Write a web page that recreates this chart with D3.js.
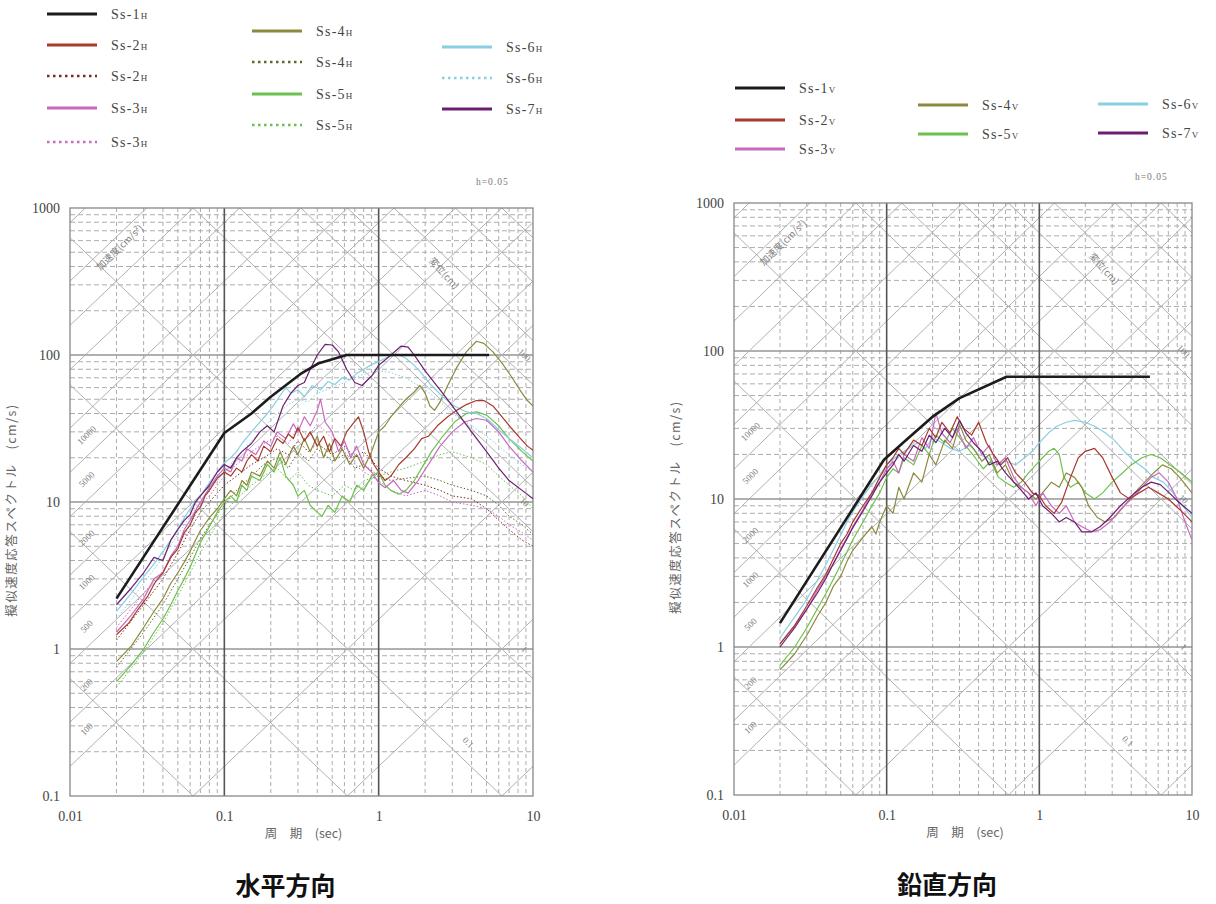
<!DOCTYPE html>
<html>
<head>
<meta charset="utf-8">
<script src="https://cdn.jsdelivr.net/npm/d3@7"></script>
<style>
  body { margin: 0; background: #fff; }
  svg { display: block; }
</style>
</head>
<body>
<svg id="chart" width="1216" height="904"></svg>
<script>
// ---- axis values ----
const periodTicks = [0.01, 0.1, 1, 10];
const periodTickLabels = ['0.01', '0.1', '1', '10'];
const svTicks = [0.1, 1, 10, 100, 1000];
const svTickLabels = ['0.1', '1', '10', '100', '1000'];

// tripartite guide lines (acceleration cm/s2, displacement cm)
const accelLines = [0.1, 1, 10, 100, 200, 500, 1000, 2000, 5000, 10000, 20000, 50000, 100000, 200000, 500000];
const accelLabels = [100, 200, 500, 1000, 2000, 5000, 10000];
const dispLines = [0.001, 0.01, 0.1, 1, 10, 20, 50, 100, 200, 500, 1000];
const dispLabels = [0.1, 1, 10, 100];

// ---- horizontal spectra [period sec, pseudo velocity cm/s] ----
const ss1H = [[0.02,2.2],[0.1,29.5],[0.15,40],[0.2,52],[0.31,74],[0.41,88],[0.62,100],[5.2,100]];
const ss2H = [[0.02,1.25],[0.024,1.5],[0.028,1.9],[0.032,2.3],[0.036,2.9],[0.04,3.3],[0.045,4.2],[0.05,4.8],[0.055,6.2],[0.06,7],[0.065,8.5],[0.07,9.2],[0.075,11],[0.08,12],[0.09,14.5],[0.1,16],[0.11,15],[0.12,17],[0.13,16],[0.14,19],[0.15,21],[0.165,19],[0.18,24],[0.2,22],[0.22,27],[0.24,25],[0.26,29],[0.28,27],[0.3,32],[0.33,26],[0.36,30],[0.4,24],[0.44,28],[0.48,22],[0.52,27],[0.57,24],[0.62,30],[0.68,34],[0.74,38],[0.8,30],[0.86,22],[0.93,18],[1.0,16],[1.1,14],[1.2,15],[1.35,18],[1.5,20],[1.7,23],[1.9,27],[2.1,28],[2.4,33],[2.8,38],[3.2,42],[3.7,46],[4.3,49],[4.8,49],[5.5,45],[6.3,38],[7.2,32],[8.3,27],[9.2,24],[10,22.5]];
const ss2Hd = [[0.02,1.15],[0.03,2.0],[0.04,3.0],[0.05,4.5],[0.06,6.5],[0.07,8.5],[0.08,10],[0.1,13],[0.12,15],[0.15,18],[0.18,20],[0.22,23],[0.26,21],[0.3,26],[0.35,22],[0.4,25],[0.5,21],[0.6,24],[0.7,20],[0.8,22],[1.0,17],[1.2,15],[1.5,14],[2,13],[2.5,12],[3,11],[4,10.5],[5,9],[6,7.5],[7,6.5],[8.5,5.5],[10,5]];
const ss3H = [[0.02,1.3],[0.025,1.7],[0.03,2.2],[0.035,3],[0.04,3.3],[0.045,4.3],[0.05,5],[0.055,6.5],[0.06,7.5],[0.07,10],[0.08,12.5],[0.09,15],[0.1,17],[0.11,16],[0.12,20],[0.13,19],[0.14,23],[0.16,21],[0.18,26],[0.2,24],[0.22,30],[0.25,27],[0.28,34],[0.3,30],[0.33,38],[0.36,33],[0.4,42],[0.42,50],[0.45,35],[0.5,30],[0.55,22],[0.6,26],[0.66,20],[0.72,24],[0.8,18],[0.9,16],[1.0,13.5],[1.1,12.5],[1.25,14],[1.4,12],[1.55,11.5],[1.8,14],[2.1,18],[2.5,24],[3,30],[3.6,35],[4.3,37],[5,36],[6,30],[7,24],[8.5,19],[10,16]];
const ss3Hd = [[0.02,1.4],[0.03,2.4],[0.04,3.4],[0.05,5],[0.06,7],[0.07,9.5],[0.08,11],[0.1,15],[0.12,18],[0.15,22],[0.18,25],[0.22,28],[0.26,25],[0.3,32],[0.35,28],[0.4,34],[0.5,27],[0.6,22],[0.7,18],[0.8,16],[1.0,14],[1.2,12],[1.5,11],[2,12],[2.5,11],[3,10],[4,9.5],[5,9],[6,8],[7,7],[8.5,6.2],[10,5.5]];
const ss4H = [[0.02,0.82],[0.025,1.05],[0.03,1.4],[0.035,1.8],[0.04,2.2],[0.045,2.8],[0.05,3.3],[0.055,3.9],[0.06,4.6],[0.065,5.5],[0.07,6.4],[0.08,7.8],[0.09,9],[0.1,10.5],[0.11,12],[0.12,11],[0.13,14],[0.14,13],[0.15,16],[0.17,15],[0.19,19],[0.21,17],[0.23,22],[0.25,18],[0.28,24],[0.3,21],[0.33,27],[0.36,22],[0.4,28],[0.44,20],[0.48,25],[0.52,19],[0.58,23],[0.65,18],[0.72,21],[0.8,17],[0.9,22],[1.0,30],[1.1,33],[1.2,38],[1.35,44],[1.5,50],[1.7,56],[1.85,62],[2.0,55],[2.15,45],[2.3,42],[2.5,48],[2.8,62],[3.2,82],[3.7,105],[4.3,124],[4.8,120],[5.5,105],[6.3,88],[7.2,72],[8.3,57],[9.2,49],[10,45]];
const ss4Hd = [[0.02,0.75],[0.03,1.3],[0.04,2],[0.05,3],[0.06,4.2],[0.07,5.6],[0.08,7],[0.1,9.5],[0.12,12],[0.15,15],[0.18,18],[0.22,20],[0.26,17],[0.3,22],[0.35,19],[0.4,23],[0.5,19],[0.6,21],[0.7,17],[0.8,18],[1.0,15],[1.2,14],[1.5,14.5],[2,15],[2.5,14],[3,13],[4,12],[5,11],[6,9.5],[7,8],[8.5,7],[10,6]];
const ss5H = [[0.02,0.6],[0.025,0.78],[0.03,1.0],[0.035,1.3],[0.04,1.6],[0.045,2],[0.05,2.5],[0.055,3],[0.06,3.6],[0.065,4.4],[0.07,5.3],[0.08,6.8],[0.09,8.5],[0.1,10],[0.11,11],[0.12,10],[0.13,13],[0.14,12],[0.15,15],[0.17,14],[0.19,18],[0.21,16],[0.23,20],[0.25,15],[0.28,13],[0.3,11],[0.33,12],[0.36,9.5],[0.4,8.5],[0.43,8],[0.47,9.5],[0.52,8.5],[0.58,11],[0.65,10],[0.72,13],[0.8,12],[0.9,15],[1.0,16],[1.1,13],[1.2,12],[1.35,11.3],[1.5,12],[1.7,14],[1.9,17],[2.2,22],[2.6,28],[3.1,35],[3.7,40],[4.3,41],[5,39],[6,33],[7,27],[8.5,22],[10,19]];
const ss5Hd = [[0.02,0.55],[0.03,0.95],[0.04,1.5],[0.05,2.3],[0.06,3.3],[0.07,4.5],[0.08,5.8],[0.1,8.5],[0.12,10.5],[0.15,13],[0.18,15],[0.22,17],[0.26,14],[0.3,16],[0.35,13],[0.4,12],[0.5,11],[0.6,13],[0.7,12],[0.8,14],[1.0,15],[1.2,16],[1.5,17],[2,19],[2.5,21],[3,22],[4,20],[5,18],[6,15],[7,13],[8.5,11],[10,9]];
const ss6H = [[0.02,1.8],[0.025,2.4],[0.03,3.1],[0.035,3.8],[0.04,4.6],[0.045,5.5],[0.05,6.6],[0.055,7.8],[0.06,9],[0.07,11],[0.08,13.5],[0.09,16],[0.1,18.5],[0.11,20],[0.12,22],[0.13,25],[0.15,30],[0.17,35],[0.19,40],[0.21,46],[0.23,53],[0.25,60],[0.27,55],[0.3,58],[0.33,52],[0.37,62],[0.42,58],[0.47,66],[0.52,63],[0.58,70],[0.65,68],[0.72,75],[0.8,80],[0.9,86],[1.0,90],[1.1,95],[1.2,98],[1.35,100],[1.5,95],[1.7,85],[1.9,75],[2.2,62],[2.6,52],[3.1,45],[3.7,41],[4.3,40],[5,37],[6,31],[7,27],[8.5,23],[10,20]];
const ss6Hd = [[0.02,1.6],[0.03,2.8],[0.04,4.2],[0.05,6],[0.06,8],[0.07,10],[0.08,12],[0.1,16],[0.12,20],[0.15,26],[0.18,32],[0.22,40],[0.26,46],[0.3,50],[0.35,48],[0.4,55],[0.5,60],[0.6,65],[0.7,70],[0.8,74],[1.0,78],[1.2,76],[1.5,70],[2,58],[2.5,48],[3,40],[4,33],[5,28],[6,24],[7,21],[8.5,18],[10,16]];
const ss7H = [[0.02,2.0],[0.025,2.6],[0.03,3.3],[0.035,4.2],[0.04,4.0],[0.045,5.5],[0.05,6.5],[0.055,7.5],[0.06,8.2],[0.065,10],[0.07,11],[0.08,13],[0.09,16],[0.1,18],[0.11,17],[0.12,20],[0.13,22],[0.15,25],[0.17,30],[0.19,33],[0.21,30],[0.24,45],[0.27,55],[0.3,62],[0.33,65],[0.36,80],[0.4,100],[0.45,118],[0.5,117],[0.55,105],[0.62,80],[0.7,65],[0.78,62],[0.9,72],[1.0,85],[1.2,100],[1.4,115],[1.55,113],[1.7,100],[2.0,78],[2.5,58],[3.0,45],[4,30],[5,22],[6,17],[7,14],[8.5,12],[10,10.5]];

// ---- vertical spectra ----
const ss1V = [[0.02,1.45],[0.096,18.4],[0.14,26],[0.2,36],[0.3,48],[0.61,67],[5.3,67]];
const ss2V = [[0.02,1.05],[0.025,1.4],[0.03,1.9],[0.035,2.5],[0.04,3.1],[0.045,4],[0.05,5],[0.055,5.8],[0.06,7],[0.07,9],[0.08,11],[0.09,14],[0.1,17],[0.11,19],[0.12,22],[0.13,20],[0.15,25],[0.17,23],[0.19,30],[0.21,26],[0.23,33],[0.26,28],[0.29,36],[0.32,30],[0.36,27],[0.4,33],[0.45,24],[0.5,20],[0.56,17],[0.62,19],[0.7,15],[0.8,13],[0.9,11],[1.0,10.5],[1.1,9],[1.25,8],[1.4,9.5],[1.6,14],[1.8,19],[2.0,21],[2.3,22],[2.6,19],[3.0,14],[3.4,11],[3.9,10],[4.5,11],[5.2,12],[6,11],[7,10],[8.3,8.5],[10,7]];
const ss3V = [[0.02,1.05],[0.025,1.4],[0.03,1.8],[0.035,2.4],[0.04,3],[0.045,3.7],[0.05,4.6],[0.055,5.5],[0.06,6.5],[0.07,8.5],[0.08,11],[0.09,13],[0.1,16],[0.11,18],[0.12,15],[0.13,20],[0.15,18],[0.17,26],[0.19,22],[0.21,38],[0.23,28],[0.26,24],[0.29,30],[0.33,22],[0.37,26],[0.42,20],[0.47,23],[0.53,17],[0.6,19],[0.68,14],[0.76,12],[0.85,11],[0.95,9],[1.05,11],[1.2,9],[1.35,8],[1.5,9],[1.7,7],[1.9,6.5],[2.2,6],[2.5,6.2],[2.9,7],[3.4,8.5],[4,10],[4.7,12],[5.4,14],[6.1,15],[7,13],[8,10],[9,7],[10,5.3]];
const ss4V = [[0.02,0.7],[0.025,0.9],[0.03,1.2],[0.035,1.6],[0.04,2],[0.045,2.6],[0.05,3],[0.055,3.8],[0.06,4.5],[0.07,5.5],[0.08,6.5],[0.085,5.8],[0.09,7],[0.1,9],[0.11,8],[0.12,12],[0.13,10],[0.15,15],[0.17,13],[0.19,20],[0.21,17],[0.24,25],[0.27,22],[0.3,32],[0.33,25],[0.37,22],[0.42,18],[0.47,20],[0.53,15],[0.6,17],[0.68,13],[0.76,12],[0.85,11],[0.95,10],[1.05,11],[1.2,13],[1.35,12],[1.5,15],[1.7,14],[1.9,12],[2.1,9],[2.4,7.5],[2.7,7],[3.1,7.5],[3.6,9],[4.2,11],[4.9,13],[5.6,15],[6.4,17],[7.3,16],[8.3,14],[10,11]];
const ss5V = [[0.02,0.75],[0.025,1],[0.03,1.35],[0.035,1.8],[0.04,2.3],[0.045,2.9],[0.05,3.6],[0.055,4.4],[0.06,5.3],[0.07,7],[0.08,9],[0.09,11],[0.1,14],[0.11,16],[0.12,15],[0.13,19],[0.15,17],[0.17,23],[0.19,20],[0.21,27],[0.24,24],[0.27,30],[0.3,26],[0.34,22],[0.38,19],[0.43,16],[0.48,18],[0.54,14],[0.6,13],[0.68,12],[0.76,13],[0.85,15],[0.95,17],[1.05,19],[1.15,21],[1.25,22],[1.35,20],[1.45,14],[1.6,12],[1.8,13],[2.0,11],[2.3,10],[2.6,11],[3,13],[3.5,15],[4,17],[4.7,19],[5.4,20],[6.2,19],[7.2,17],[8.5,15],[10,13]];
const ss6V = [[0.02,1.15],[0.025,1.6],[0.03,2.1],[0.035,2.8],[0.04,3.6],[0.045,4.6],[0.05,5.7],[0.055,7],[0.06,8.2],[0.07,10.5],[0.08,12.5],[0.09,14.5],[0.1,17],[0.12,20],[0.14,22],[0.16,24],[0.18,22],[0.2,26],[0.23,24],[0.26,22],[0.3,21],[0.35,23],[0.4,20],[0.46,19],[0.52,17],[0.6,18],[0.7,17],[0.8,19],[0.9,21],[1.0,24],[1.15,28],[1.3,31],[1.5,33],[1.7,34],[2.0,33],[2.3,31],[2.7,28],[3.1,25],[3.6,21],[4.2,18],[4.9,16],[5.6,14],[6.5,13],[7.5,11],[8.7,9],[10,7.5]];
const ss7V = [[0.02,1.0],[0.025,1.35],[0.03,1.8],[0.035,2.3],[0.04,2.9],[0.045,3.7],[0.05,4.5],[0.055,5.4],[0.06,6.4],[0.07,8.3],[0.08,10.5],[0.09,13],[0.1,15],[0.11,17],[0.12,20],[0.13,18],[0.15,23],[0.17,21],[0.19,27],[0.21,24],[0.24,30],[0.27,26],[0.3,34],[0.33,28],[0.37,24],[0.42,21],[0.47,17],[0.53,18],[0.6,15],[0.68,13],[0.76,11.5],[0.85,10],[0.95,11],[1.05,9],[1.2,8],[1.35,7],[1.5,7.5],[1.7,7],[1.9,6],[2.2,6],[2.5,6.5],[2.9,7.5],[3.4,9],[4,10.5],[4.7,12],[5.4,13],[6.2,12.5],[7.1,11],[8.2,9.5],[10,8]];

// colours per wave
const colors = {
  ss1: '#1c1c1c', ss2: '#a63a2c', ss3: '#c869bf', ss4: '#8b8a3e',
  ss5: '#6cc14c', ss6: '#88cfe2', ss7: '#6b1f70'
};

const svg = d3.select('#chart');
const defs = svg.append('defs');
const serif = "'Liberation Serif', 'DejaVu Serif', serif";
const jp = "'Noto Sans CJK JP', 'Noto Sans', sans-serif";

/**
 * draws one tripartite response spectrum panel
 */
function drawPanel(p) {
  const x = d3.scaleLog().domain([0.01, 10]).range([p.left, p.right]);
  const y = d3.scaleLog().domain([0.1, 1000]).range([p.bottom, p.top]);
  const g = svg.append('g');

  defs.append('clipPath').attr('id', 'clip-' + p.id)
    .append('rect')
    .attr('x', p.left).attr('y', p.top)
    .attr('width', p.right - p.left).attr('height', p.bottom - p.top);

  // minor grid values 2..9 per decade
  const minorT = [], minorV = [];
  [0.01, 0.1, 1].forEach(d => { for (let k = 2; k <= 9; k++) minorT.push(d * k); });
  [0.1, 1, 10, 100].forEach(d => { for (let k = 2; k <= 9; k++) minorV.push(d * k); });

  const grid = g.append('g');
  grid.selectAll('.vmin').data(minorT).enter().append('line')
    .attr('x1', d => x(d)).attr('x2', d => x(d))
    .attr('y1', p.top).attr('y2', p.bottom)
    .attr('stroke', '#adadad').attr('stroke-width', 1)
    .attr('stroke-dasharray', '4,3');
  grid.selectAll('.hmin').data(minorV).enter().append('line')
    .attr('x1', p.left).attr('x2', p.right)
    .attr('y1', d => y(d)).attr('y2', d => y(d))
    .attr('stroke', '#adadad').attr('stroke-width', 1)
    .attr('stroke-dasharray', '5,3');

  // diagonal guide lines
  const diag = g.append('g').attr('clip-path', `url(#clip-${p.id})`);
  const line = d3.line().x(d => x(d[0])).y(d => y(d[1]));
  const ends = [0.01, 10];
  diag.selectAll('.acc').data(accelLines).enter().append('path')
    .attr('d', a => line(ends.map(t => [t, a * t / (2 * Math.PI)])))
    .attr('stroke', '#b0b0b0').attr('stroke-width', 1).attr('fill', 'none');
  diag.selectAll('.dis').data(dispLines).enter().append('path')
    .attr('d', s => line(ends.map(t => [t, 2 * Math.PI * s / t])))
    .attr('stroke', '#b0b0b0').attr('stroke-width', 1).attr('fill', 'none');

  // major grid
  grid.selectAll('.hmaj').data(svTicks.slice(1, -1)).enter().append('line')
    .attr('x1', p.left).attr('x2', p.right)
    .attr('y1', d => y(d)).attr('y2', d => y(d))
    .attr('stroke', '#969696').attr('stroke-width', 1.3);
  g.selectAll('.vmaj').data(periodTicks.slice(1, -1)).enter().append('line')
    .attr('x1', d => x(d)).attr('x2', d => x(d))
    .attr('y1', p.top).attr('y2', p.bottom)
    .attr('stroke', '#555').attr('stroke-width', 1.6);
  g.append('rect')
    .attr('x', p.left).attr('y', p.top)
    .attr('width', p.right - p.left).attr('height', p.bottom - p.top)
    .attr('fill', 'none').attr('stroke', '#888').attr('stroke-width', 1.3);

  // guide labels
  const lab = g.append('g').attr('font-family', serif).attr('font-size', 9)
    .attr('fill', '#808080').attr('text-anchor', 'middle');
  lab.selectAll('.al').data(accelLabels).enter().append('text')
    .attr('transform', a => {
      const t = 0.0128;
      return `translate(${x(t)},${y(a * t / (2 * Math.PI) * 1.4)}) rotate(-44)`;
    })
    .attr('dy', '0.35em')
    .text(d => d);
  lab.selectAll('.dl').data(dispLabels).enter().append('text')
    .attr('transform', s => {
      const t = s < 1 ? 3.8 : 8.8;
      return `translate(${x(t)},${y(2 * Math.PI * s / t * 1.4)}) rotate(44)`;
    })
    .attr('dy', '0.35em')
    .text(d => d);
  lab.append('text')
    .attr('transform', `translate(${x(0.021)},${y(540)}) rotate(-44)`)
    .attr('font-family', jp).attr('font-size', 9.5).attr('dy', '0.35em')
    .text('加速度(cm/s²)');
  lab.append('text')
    .attr('transform', `translate(${x(2.65)},${y(360)}) rotate(48)`)
    .attr('font-family', jp).attr('font-size', 9.5).attr('dy', '0.35em')
    .text('変位(cm)');

  // spectra curves
  const curves = g.append('g').attr('clip-path', `url(#clip-${p.id})`)
    .attr('fill', 'none').attr('stroke-linejoin', 'round');
  curves.selectAll('.curve').data(p.series).enter().append('path')
    .attr('d', s => line(s.values))
    .attr('stroke', s => s.color)
    .attr('stroke-width', s => s.width)
    .attr('stroke-dasharray', s => s.dotted ? '1.5,2' : null);

  // axes
  const xAxis = d3.axisBottom(x).tickValues(periodTicks)
    .tickFormat((d, i) => periodTickLabels[i]).tickSize(0).tickPadding(15);
  const yAxis = d3.axisLeft(y).tickValues(svTicks)
    .tickFormat((d, i) => svTickLabels[i]).tickSize(0).tickPadding(10);
  [svg.append('g').attr('transform', `translate(0,${p.bottom})`).call(xAxis),
   svg.append('g').attr('transform', `translate(${p.left},0)`).call(yAxis)]
    .forEach(a => {
      a.select('.domain').remove();
      a.selectAll('text').attr('font-family', serif).attr('font-size', 14)
        .attr('fill', '#444');
    });

  svg.append('text')
    .attr('x', (x(0.1) + x(1)) / 2 + 2).attr('y', p.bottom + 42)
    .attr('text-anchor', 'middle').attr('font-family', jp)
    .attr('font-size', 12.5).attr('fill', '#666')
    .attr('xml:space', 'preserve')
    .text('周　期　(sec)');
  svg.append('text')
    .attr('transform', `translate(${p.left - 54},${(p.top + p.bottom) / 2 + 8}) rotate(-90)`)
    .attr('text-anchor', 'middle').attr('font-family', jp)
    .attr('font-size', 12.5).attr('fill', '#666')
    .attr('letter-spacing', 1.5)
    .text('擬似速度応答スペクトル　(cm/s)');
  svg.append('text')
    .attr('x', p.right - 57).attr('y', p.top - 23)
    .attr('font-family', serif).attr('font-size', 9.5).attr('fill', '#777')
    .attr('letter-spacing', 1)
    .text('h=0.05');
  svg.append('text')
    .attr('x', (p.left + p.right) / 2 - 16).attr('y', p.bottom + 99)
    .attr('text-anchor', 'middle').attr('font-family', jp)
    .attr('font-size', 25).attr('font-weight', 700).attr('fill', '#111')
    .text(p.title);

  // legend
  const leg = svg.append('g').attr('font-family', serif).attr('fill', '#444');
  p.legend.forEach(e => {
    leg.append('line')
      .attr('x1', e.x).attr('x2', e.x + 50).attr('y1', e.y).attr('y2', e.y)
      .attr('stroke', e.color).attr('stroke-width', e.dotted ? 2.5 : 3.2)
      .attr('stroke-dasharray', e.dotted ? '2.5,3.5' : null);
    const t = leg.append('text').attr('x', e.x + 64).attr('y', e.y + 5)
      .attr('font-size', 14).attr('letter-spacing', 1.2).text(e.name);
    t.append('tspan').attr('font-size', 9).text(e.sub);
  });
}

// build series tables
const seriesH = [
  { values: ss6Hd, color: colors.ss6, width: 1, dotted: true },
  { values: ss5Hd, color: colors.ss5, width: 1, dotted: true },
  { values: ss4Hd, color: '#5f6a2a', width: 1, dotted: true },
  { values: ss3Hd, color: colors.ss3, width: 1, dotted: true },
  { values: ss2Hd, color: '#7a2a20', width: 1, dotted: true },
  { values: ss5H, color: colors.ss5, width: 1.2 },
  { values: ss4H, color: colors.ss4, width: 1.2 },
  { values: ss6H, color: colors.ss6, width: 1.2 },
  { values: ss3H, color: colors.ss3, width: 1.2 },
  { values: ss2H, color: colors.ss2, width: 1.2 },
  { values: ss7H, color: colors.ss7, width: 1.2 },
  { values: ss1H, color: colors.ss1, width: 2.6 }
];
const seriesV = [
  { values: ss6V, color: colors.ss6, width: 1.2 },
  { values: ss5V, color: colors.ss5, width: 1.2 },
  { values: ss4V, color: colors.ss4, width: 1.2 },
  { values: ss3V, color: colors.ss3, width: 1.2 },
  { values: ss2V, color: colors.ss2, width: 1.2 },
  { values: ss7V, color: colors.ss7, width: 1.2 },
  { values: ss1V, color: colors.ss1, width: 2.6 }
];

const legendH = [
  { name: 'Ss-1', sub: 'H', color: colors.ss1, x: 47, y: 14 },
  { name: 'Ss-2', sub: 'H', color: colors.ss2, x: 47, y: 45 },
  { name: 'Ss-2', sub: 'H', color: '#7a2a20', x: 47, y: 76, dotted: true },
  { name: 'Ss-3', sub: 'H', color: colors.ss3, x: 47, y: 108 },
  { name: 'Ss-3', sub: 'H', color: colors.ss3, x: 47, y: 142, dotted: true },
  { name: 'Ss-4', sub: 'H', color: colors.ss4, x: 252, y: 31 },
  { name: 'Ss-4', sub: 'H', color: '#5f6a2a', x: 252, y: 62, dotted: true },
  { name: 'Ss-5', sub: 'H', color: colors.ss5, x: 252, y: 94 },
  { name: 'Ss-5', sub: 'H', color: colors.ss5, x: 252, y: 125, dotted: true },
  { name: 'Ss-6', sub: 'H', color: colors.ss6, x: 442, y: 47 },
  { name: 'Ss-6', sub: 'H', color: colors.ss6, x: 442, y: 78, dotted: true },
  { name: 'Ss-7', sub: 'H', color: colors.ss7, x: 442, y: 109 }
];
const legendV = [
  { name: 'Ss-1', sub: 'V', color: colors.ss1, x: 735, y: 88 },
  { name: 'Ss-2', sub: 'V', color: colors.ss2, x: 735, y: 120 },
  { name: 'Ss-3', sub: 'V', color: colors.ss3, x: 735, y: 149 },
  { name: 'Ss-4', sub: 'V', color: colors.ss4, x: 918, y: 105 },
  { name: 'Ss-5', sub: 'V', color: colors.ss5, x: 918, y: 134 },
  { name: 'Ss-6', sub: 'V', color: colors.ss6, x: 1098, y: 104 },
  { name: 'Ss-7', sub: 'V', color: colors.ss7, x: 1098, y: 133 }
];

drawPanel({ id: 'h', left: 70, right: 533, top: 208, bottom: 796,
  series: seriesH, legend: legendH, title: '水平方向' });
drawPanel({ id: 'v', left: 734, right: 1192, top: 203, bottom: 795,
  series: seriesV, legend: legendV, title: '鉛直方向' });
</script>
</body>
</html>
